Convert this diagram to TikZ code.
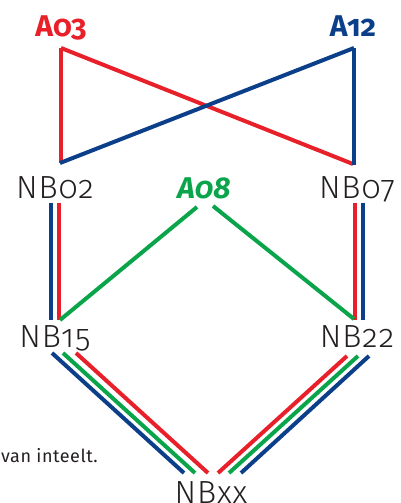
\documentclass[tikz,border=0pt]{standalone}
\usepackage{fontspec}
\setmainfont{Fira Sans}[Numbers=OldStyle]
\newfontfamily\nbfont{Fira Sans Light}[Numbers=OldStyle, LetterSpace=3]
\newfontfamily\smfont{Fira Sans}[LetterSpace=3]
\definecolor{lred}{HTML}{E8202A}
\definecolor{lblue}{HTML}{0B3F8A}
\definecolor{lgreen}{HTML}{0AA54B}
\definecolor{ltext}{HTML}{231F20}
\tikzset{
  ln/.style={line width=4pt},
  nb/.style={font=\nbfont\fontsize{32}{34}\selectfont, text=ltext, anchor=base, inner sep=0pt},
  an/.style={font=\bfseries\fontsize{30}{32}\selectfont, anchor=base, inner sep=0pt},
}
\begin{document}
\begin{tikzpicture}[x=1pt,y=-1pt]
\useasboundingbox (0,0) rectangle (400,503);
\clip (0,0) rectangle (400,503);
% labels
\node[an, text=lred] (a03) at (61,37) {A03};
\node[an, text=lblue] (a12) at (353,37) {A12};
\node[an, text=lgreen, font=\bfseries\itshape\fontsize{30}{32}\selectfont] (a08) at (204,198) {A08};
\node[nb] (nb02) at (55,198) {NB02};
\node[nb] (nb07) at (357,198) {NB07};
\node[nb] (nb15) at (55,347) {NB15};
\node[nb] (nb22) at (357,347) {NB22};
\node[nb] (nbxx) at (211,503) {NBxx};
\node[anchor=base east, inner sep=0pt, text=ltext, font=\smfont\fontsize{18}{20}\selectfont] (note) at (98,462) {van inteelt.};
% endpoints
\coordinate (p03) at (61,48);
\coordinate (p12) at (354,48);
\coordinate (q02) at (60,163);
\coordinate (q07) at (353,164);
% top cross
\draw[ln, lred] (61,48) -- (61,163);
\draw[ln, lred] (p03) -- (q07);
\draw[ln, lblue] (p12) -- (354,165);
\draw[ln, lblue] (p12) -- (q02);
% verticals NB02-NB15, NB07-NB22
\coordinate (l1t) at (51,203); \coordinate (l1b) at (51,320);
\coordinate (l2t) at (59,203); \coordinate (l2b) at (59,320);
\coordinate (r1t) at (355,203); \coordinate (r1b) at (355,320);
\coordinate (r2t) at (363,203); \coordinate (r2b) at (363,320);
\draw[ln, lblue] (l1t) -- (l1b);
\draw[ln, lred] (l2t) -- (l2b);
\draw[ln, lred] (r1t) -- (r1b);
\draw[ln, lblue] (r2t) -- (r2b);
% green from A08
\coordinate (g1) at (197,207); \coordinate (g1b) at (60,320);
\coordinate (g2) at (213,206); \coordinate (g2b) at (354,319);
\draw[ln, lgreen] (g1) -- (g1b);
\draw[ln, lgreen] (g2) -- (g2b);
% bottom bundles
\coordinate (b1) at (52,353); \coordinate (b1e) at (184,473);
\coordinate (b2) at (63,353); \coordinate (b2e) at (195,473);
\coordinate (b3) at (76,353); \coordinate (b3e) at (208,473);
\coordinate (c1) at (347,356); \coordinate (c1e) at (218,473);
\coordinate (c2) at (358,356); \coordinate (c2e) at (229,473);
\coordinate (c3) at (369,356); \coordinate (c3e) at (241,473);
\draw[ln, lblue] (b1) -- (b1e);
\draw[ln, lgreen] (b2) -- (b2e);
\draw[ln, lred] (b3) -- (b3e);
\draw[ln, lred] (c1) -- (c1e);
\draw[ln, lgreen] (c2) -- (c2e);
\draw[ln, lblue] (c3) -- (c3e);
\end{tikzpicture}
\end{document}
